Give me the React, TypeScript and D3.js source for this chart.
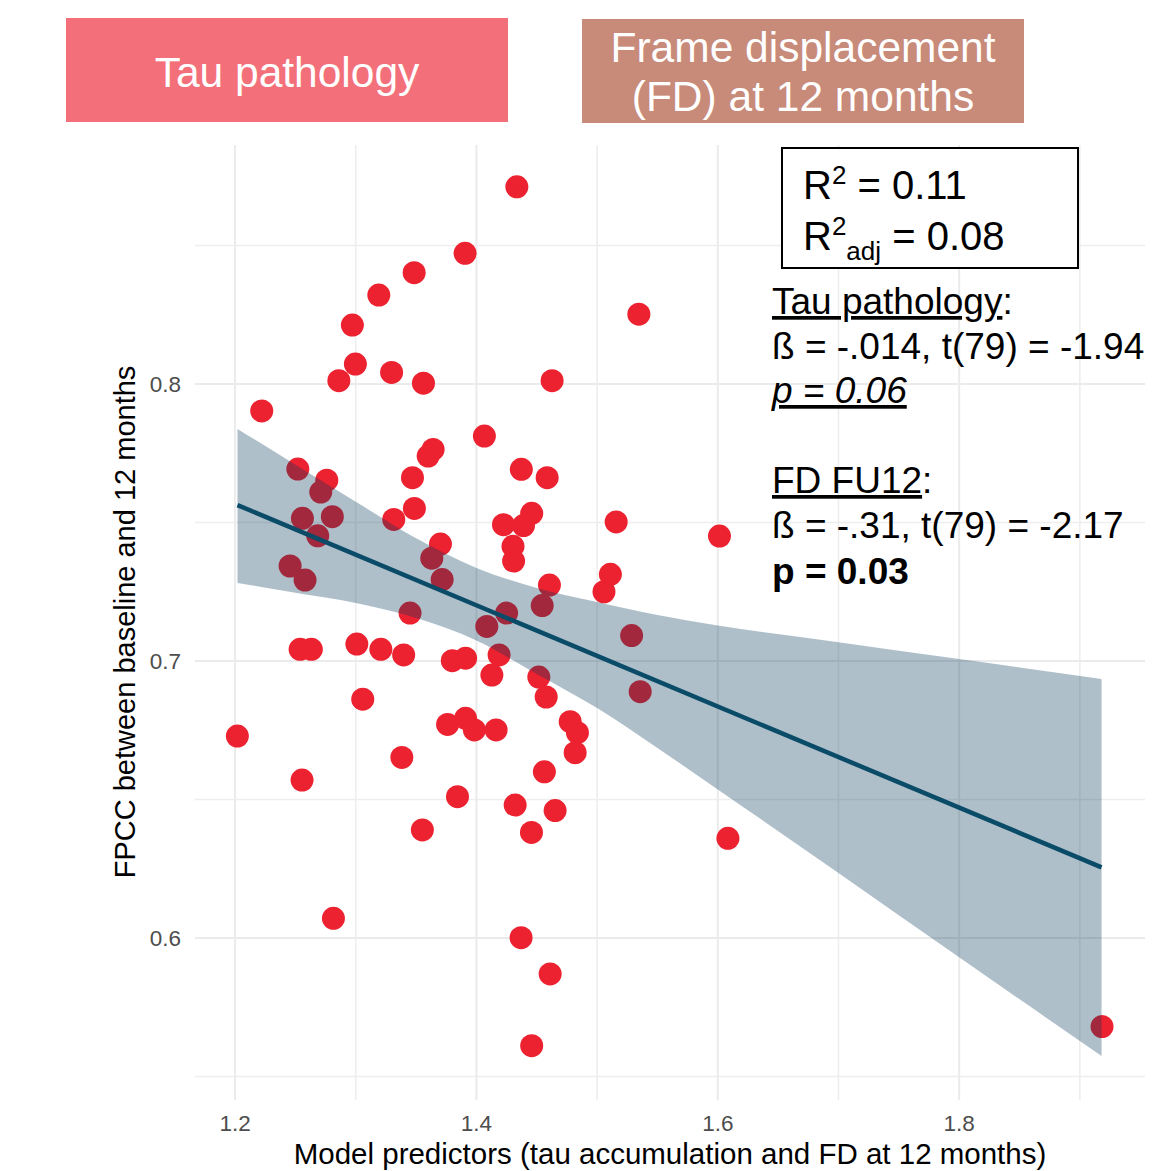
import React from 'react';
import * as d3 from 'd3';

// predictor value (x) and FPCC (y) for each subject
const predX = [
  1.4335, 1.3906, 1.3484, 1.3191, 1.5346, 1.2972, 1.2997, 1.3297, 1.286, 1.3561,
  1.4627, 1.2221, 1.4066, 1.3641, 1.36, 1.252, 1.276, 1.4372, 1.4586, 1.347,
  1.271, 1.2558, 1.2806, 1.3486, 1.3315, 1.4224, 1.4458, 1.439, 1.5158, 1.6014,
  1.2685, 1.3702, 1.4303, 1.4308, 1.2456, 1.363, 1.258, 1.3716, 1.4605, 1.511,
  1.5057, 1.4545, 1.345, 1.425, 1.4086, 1.5286, 1.2539, 1.2632, 1.3009, 1.3208,
  1.3397, 1.38, 1.391, 1.4188, 1.4128, 1.4517, 1.5357, 1.3058, 1.4578, 1.3761,
  1.391, 1.3983, 1.4163, 1.4777, 1.4837, 1.4818, 1.2019, 1.3382, 1.4563, 1.2555,
  1.3843, 1.4321, 1.4652, 1.3552, 1.4456, 1.6084, 1.2815, 1.437, 1.4611, 1.4458,
  1.9184,
];
const fpcc = [
  0.8712, 0.8472, 0.8402, 0.8321, 0.8252, 0.8213, 0.8072, 0.8042, 0.8012, 0.8003,
  0.8012, 0.7903, 0.7812, 0.7764, 0.774, 0.7693, 0.7653, 0.7692, 0.7662, 0.7662,
  0.761, 0.7515, 0.7521, 0.7551, 0.7511, 0.7492, 0.7533, 0.7489, 0.7502, 0.7451,
  0.7452, 0.7422, 0.7414, 0.7361, 0.7343, 0.7371, 0.7292, 0.7294, 0.7274, 0.7313,
  0.725, 0.72, 0.7173, 0.7173, 0.7125, 0.7092, 0.7042, 0.7042, 0.7061, 0.7042,
  0.7022, 0.7001, 0.701, 0.7022, 0.6949, 0.6942, 0.6889, 0.6862, 0.687, 0.6771,
  0.6793, 0.6751, 0.6751, 0.6781, 0.6741, 0.6669, 0.6729, 0.6652, 0.66, 0.657,
  0.651, 0.648, 0.646, 0.639, 0.6381, 0.636, 0.6071, 0.6001, 0.587, 0.5611,
  0.568,
];

// fitted line and its confidence band
const fitX = [1.202, 1.918];
const fitY = [0.7563, 0.6255];
const bandX = [1.202, 1.25, 1.3, 1.35, 1.4, 1.45, 1.5, 1.55, 1.6, 1.7, 1.8, 1.918];
const bandUpper = [0.7838, 0.7709, 0.7575, 0.7443, 0.7336, 0.7264, 0.7213, 0.7166, 0.7128, 0.7068, 0.7007, 0.6935];
const bandLower = [0.7282, 0.7246, 0.7209, 0.7155, 0.7074, 0.6953, 0.683, 0.6686, 0.6536, 0.6235, 0.593, 0.5574];

const xMajor = [1.2, 1.4, 1.6, 1.8];
const xMinor = [1.3, 1.5, 1.7, 1.9];
const yMajor = [0.6, 0.7, 0.8];
const yMinor = [0.55, 0.65, 0.75, 0.85];

const W = 1156;
const H = 1171;
const panel = { left: 195, right: 1145, top: 145, bottom: 1100 };
const font = 'Liberation Sans, Arial, sans-serif';

export default function App() {
  const x = d3.scaleLinear().domain([1.1668, 1.954]).range([panel.left, panel.right]);
  const y = d3.scaleLinear().domain([0.5415, 0.8863]).range([panel.bottom, panel.top]);

  const band = d3.area<number>()
    .x((d, i) => x(bandX[i]))
    .y0((d, i) => y(bandLower[i]))
    .y1((d) => y(d))
    .curve(d3.curveMonotoneX);

  const fit = d3.line<number>()
    .x((d, i) => x(fitX[i]))
    .y((d) => y(d));

  const statX = 772;

  return (
    <svg width={W} height={H} style={{ position: 'absolute', left: 0, top: 0, background: '#fff' }}
      fontFamily={font}>
      {/* header boxes */}
      <rect x={66} y={18} width={442} height={104} fill="#f3707a" />
      <text x={287} y={87} fill="#fff" fontSize={42.5} textAnchor="middle">Tau pathology</text>
      <rect x={582} y={19} width={442} height={104} fill="#c88a79" />
      <text x={803} y={62} fill="#fff" fontSize={42.5} textAnchor="middle">Frame displacement</text>
      <text x={803} y={111} fill="#fff" fontSize={42.5} textAnchor="middle">(FD) at 12 months</text>

      {/* grid */}
      <g>
        {xMinor.map((v) => (
          <line key={'xm' + v} x1={x(v)} x2={x(v)} y1={panel.top} y2={panel.bottom} stroke="#eeeeee" strokeWidth={1.6} />
        ))}
        {yMinor.map((v) => (
          <line key={'ym' + v} x1={panel.left} x2={panel.right} y1={y(v)} y2={y(v)} stroke="#eeeeee" strokeWidth={1.6} />
        ))}
        {xMajor.map((v) => (
          <line key={'xM' + v} x1={x(v)} x2={x(v)} y1={panel.top} y2={panel.bottom} stroke="#ebebeb" strokeWidth={2} />
        ))}
        {yMajor.map((v) => (
          <line key={'yM' + v} x1={panel.left} x2={panel.right} y1={y(v)} y2={y(v)} stroke="#ebebeb" strokeWidth={2} />
        ))}
      </g>

      {/* points */}
      <g fill="#ed2230">
        {predX.map((v, i) => (
          <circle key={i} cx={x(v)} cy={y(fpcc[i])} r={11.5} />
        ))}
      </g>

      {/* confidence band and fit */}
      <path d={band(bandUpper) || ''} fill="#02375a" fillOpacity={0.32} />
      <path d={fit(fitY) || ''} fill="none" stroke="#0a4b68" strokeWidth={4.5} />

      {/* axes labels */}
      <g fill="#4d4d4d" fontSize={22.5}>
        {yMajor.map((v) => (
          <text key={v} x={181} y={y(v) + 8} textAnchor="end">{d3.format('.1f')(v)}</text>
        ))}
        {xMajor.map((v) => (
          <text key={v} x={x(v)} y={1131} textAnchor="middle">{d3.format('.1f')(v)}</text>
        ))}
      </g>
      <text x={670} y={1164} fontSize={29.5} textAnchor="middle" fill="#000">
        Model predictors (tau accumulation and FD at 12 months)
      </text>
      <text transform="translate(135,622) rotate(-90)" fontSize={29} textAnchor="middle" fill="#000">
        FPCC between baseline and 12 months
      </text>

      {/* R2 box */}
      <rect x={782} y={148} width={296} height={120} fill="#fff" stroke="#000" strokeWidth={2} />
      <text x={803} y={199} fontSize={40} fill="#000">
        R<tspan fontSize={26} dy={-15}>2</tspan><tspan dy={15}> = 0.11</tspan>
      </text>
      <text x={803} y={250} fontSize={40} fill="#000">
        R<tspan fontSize={26} dy={-15}>2</tspan><tspan fontSize={26} dy={25}>adj</tspan><tspan dy={-10}> = 0.08</tspan>
      </text>

      {/* coefficient stats */}
      <g fontSize={37} fill="#000">
        <text x={statX} y={314}>
          <tspan style={{ textDecoration: 'underline' }}>Tau pathology</tspan>:
        </text>
        <text x={statX} y={359}>ß = -.014, t(79) = -1.94</text>
        <text x={statX} y={403} fontStyle="italic" style={{ textDecoration: 'underline' }}>p = 0.06</text>
        <text x={statX} y={493}>
          <tspan style={{ textDecoration: 'underline' }}>FD FU12</tspan>:
        </text>
        <text x={statX} y={538}>ß = -.31, t(79) = -2.17</text>
        <text x={statX} y={584} fontWeight="bold">p = 0.03</text>
      </g>
    </svg>
  );
}
